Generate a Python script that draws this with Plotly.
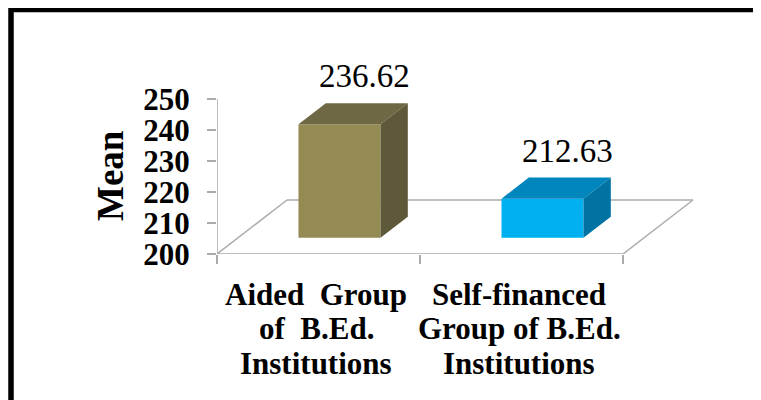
import plotly.graph_objects as go

# ---- data ----
categories = ["Aided Group of B.Ed. Institutions", "Self-financed Group of B.Ed. Institutions"]
category_lines = [["Aided\u00a0 Group", "of\u00a0 B.Ed.", "Institutions"],
                  ["Self-financed", "Group of B.Ed.", "Institutions"]]
means = [236.62, 212.63]
front_colors = ["#948A54", "#00B0F0"]
top_colors = ["#6E6844", "#0085BC"]
side_colors = ["#5E5939", "#0073A3"]
y_ticks = [200, 210, 220, 230, 240, 250]
y_title = "Mean"

# ---- geometry (window pixel layout; page body has an 8px margin) ----
OFF = 8
W_WIN, H_WIN = 761, 400
W_FIG, H_FIG = W_WIN - OFF, H_WIN - OFF
L, R, T, B = 217, 700, 37, 254          # plot area in window pixels
Y0, Y1 = 200, 270
X0 = -0.5
px_per_x = (623 - 217) / 2.0
X1 = X0 + (R - L) / px_per_x
px_per_y = (B - T) / (Y1 - Y0)

DX = 70 / px_per_x          # floor depth in x units
DY = 54 / px_per_y          # floor depth in y units
F1, F2 = 0.30, 0.69         # bar depth fractions
BAR_W = 0.404

def paper_x(px):
    return (px - L) / (R - L)

def paper_y(py):
    return (B - py) / (B - T)

n = len(means)
xs = list(range(n))

fig = go.Figure()

# front faces as bars
bar_x = [x + F1 * DX for x in xs]
bar_base = [Y0 + F1 * DY] * n
fig.add_trace(go.Bar(
    x=bar_x, y=[m - Y0 for m in means], base=bar_base, width=BAR_W,
    marker=dict(color=front_colors, line=dict(width=0)),
    hoverinfo="skip", showlegend=False,
))

dd_x = (F2 - F1) * DX
dd_y = (F2 - F1) * DY
for i, m in enumerate(means):
    xl = bar_x[i] - BAR_W / 2
    xr = bar_x[i] + BAR_W / 2
    top = m + F1 * DY
    base = bar_base[i]
    # top face
    fig.add_trace(go.Scatter(
        x=[xl, xr, xr + dd_x, xl + dd_x, xl],
        y=[top, top, top + dd_y, top + dd_y, top],
        fill="toself", fillcolor=top_colors[i], mode="lines",
        line=dict(width=0, color=top_colors[i]), hoverinfo="skip", showlegend=False,
    ))
    # side face
    fig.add_trace(go.Scatter(
        x=[xr, xr + dd_x, xr + dd_x, xr, xr],
        y=[base, base + dd_y, top + dd_y, top, base],
        fill="toself", fillcolor=side_colors[i], mode="lines",
        line=dict(width=0, color=side_colors[i]), hoverinfo="skip", showlegend=False,
    ))
    # value label
    fig.add_annotation(
        x=bar_x[i] + dd_x - 0.01, y=top + dd_y, xref="x", yref="y",
        text=f"{m:.2f}", showarrow=False, yanchor="middle", yshift=27,
        font=dict(family="Liberation Serif", size=33, color="black"),
    )

# floor outline + value axis line (below traces)
grey = "#ABABAB"
xa, xb = X0, X0 + n
floor = [((xa, Y0), (xb, Y0)), ((xb, Y0), (xb + DX, Y0 + DY)),
         ((xb + DX, Y0 + DY), (xa + DX, Y0 + DY)), ((xa + DX, Y0 + DY), (xa, Y0)),
         ((xa, Y0), (xa, y_ticks[-1]))]
for (p, q) in floor:
    fig.add_shape(type="line", xref="x", yref="y", x0=p[0], y0=p[1], x1=q[0], y1=q[1],
                  line=dict(color=grey, width=1.5), layer="below")

# category labels
line_y = [294, 328, 363]
for i, lines in enumerate(category_lines):
    for j, txt in enumerate(lines):
        fig.add_annotation(
            x=xs[i] - 0.01, xref="x", y=paper_y(line_y[j]), yref="paper",
            text=f"<b>{txt}</b>", showarrow=False, xanchor="center", yanchor="middle",
            font=dict(family="Liberation Serif", size=31, color="black"),
        )

# axis title
fig.add_annotation(
    x=paper_x(110), xref="paper", y=paper_y(176), yref="paper",
    text=f"<b>{y_title}</b>", textangle=-90, showarrow=False,
    xanchor="center", yanchor="middle",
    font=dict(family="Liberation Serif", size=37, color="black"),
)

# outer frame
fig.add_shape(type="rect", xref="paper", yref="paper",
              x0=paper_x(11), x1=paper_x(820), y0=paper_y(9.5), y1=paper_y(460),
              line=dict(color="black", width=5.5), fillcolor="rgba(0,0,0,0)")

fig.update_layout(
    width=W_FIG, height=H_FIG,
    margin=dict(l=L - OFF, r=W_WIN - R, t=T - OFF, b=H_WIN - B, autoexpand=False),
    paper_bgcolor="white", plot_bgcolor="white",
    showlegend=False,
    xaxis=dict(range=[X0, X1], tickvals=[X0 + k for k in range(n + 1)], ticks="outside",
               ticklen=9, tickwidth=1.5, tickcolor=grey, showticklabels=False,
               showgrid=False, zeroline=False, showline=False, fixedrange=True),
    yaxis=dict(range=[Y0, Y1], tickvals=y_ticks, ticktext=[f"<b>{v}</b>" for v in y_ticks],
               ticks="outside", ticklen=9, tickwidth=1.5, tickcolor=grey,
               ticklabelstandoff=11,
               tickfont=dict(family="Liberation Serif", size=31, color="black"),
               showgrid=False, zeroline=False, showline=False, fixedrange=True),
)

fig.write_html("out.html")
